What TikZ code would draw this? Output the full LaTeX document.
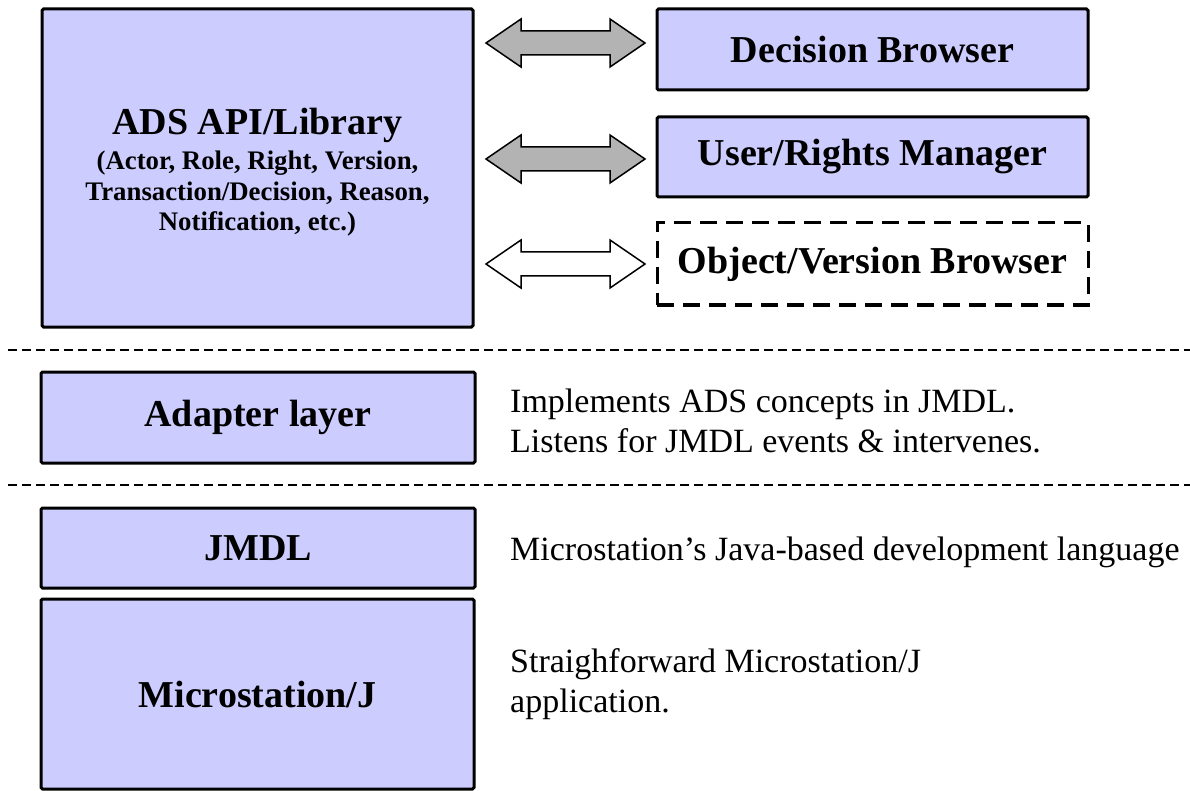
\documentclass[tikz,border=0pt]{standalone}
\usepackage{fontspec}
\setmainfont{Liberation Serif}
\definecolor{boxfill}{HTML}{CCCCFF}
\definecolor{arrowgray}{HTML}{B3B3B3}
\tikzset{
  layer/.style={draw=black, line width=3pt, fill=boxfill, rounded corners=1.5pt, inner sep=0pt,
    font=\fontsize{38}{42}\selectfont\bfseries},
  dashedbox/.style={draw=black, line width=3pt, dash pattern=on 17pt off 9pt, fill=white, inner sep=0pt,
    font=\fontsize{38}{42}\selectfont\bfseries},
  btxt/.style={anchor=base, inner sep=0pt, font=\fontsize{38}{42}\selectfont\bfseries},
  stxt/.style={anchor=base, inner sep=0pt, font=\fontsize{26.8}{30}\selectfont\bfseries},
  note/.style={anchor=base west, inner sep=0pt, font=\fontsize{34}{40}\selectfont},
  sepline/.style={line width=2.5pt, dash pattern=on 9pt off 5pt},
  dblarrow/.pic={\draw[line width=1.5pt, line join=miter, fill=#1]
     (-79.5,0) -- (-44.5,-24) -- (-44.5,-12) -- (44.5,-12) -- (44.5,-24) -- (79.5,0)
     -- (44.5,24) -- (44.5,12) -- (-44.5,12) -- (-44.5,24) -- cycle;}
}
\begin{document}
\begin{tikzpicture}[x=1pt,y=-1pt]
\useasboundingbox (0,0) rectangle (1190,791);
% top section
\node[layer, minimum width=431pt, minimum height=318pt] (ads) at (257.5,168) {};
\node[btxt] (adst) at (257.5,135) {ADS API/Library};
\node[stxt] (adss1) at (257.5,170) {(Actor, Role, Right, Version,};
\node[stxt] (adss2) at (257.5,200.5) {Transaction/Decision, Reason,};
\node[stxt] (adss3) at (257.5,231) {Notification, etc.)};

\node[layer, minimum width=431pt, minimum height=81pt] (dec) at (872.5,49.5) {Decision Browser};
\node[layer, minimum width=431pt, minimum height=80pt] (usr) at (872.5,157) {User/Rights Manager};
\node[dashedbox, minimum width=431pt, minimum height=82pt] (obj) at (872.5,264) {Object/Version Browser};

\coordinate (a1) at (565.5,43);
\coordinate (a2) at (565.5,159);
\coordinate (a3) at (565.5,264);
\pic at (a1) {dblarrow=arrowgray};
\pic at (a2) {dblarrow=arrowgray};
\pic at (a3) {dblarrow=white};

% separators
\coordinate (s1l) at (8,350);
\coordinate (s1r) at (1190,350);
\coordinate (s2l) at (8,485);
\coordinate (s2r) at (1190,485);
\draw[sepline] (s1l) -- (s1r);
\draw[sepline] (s2l) -- (s2r);

% adapter layer
\node[layer, minimum width=434pt, minimum height=91pt] (adp) at (258,417.5) {Adapter layer};
\node[note] (n1) at (510,412) {Implements ADS concepts in JMDL.};
\node[note] (n2) at (510,452) {Listens for JMDL events \& intervenes.};

% JMDL
\node[layer, minimum width=434pt, minimum height=80pt] (jmdl) at (258,548) {JMDL};
\node[note] (n3) at (510,560) {Microstation’s Java-based development language};

% Microstation
\node[layer, minimum width=433pt, minimum height=190pt] (ms) at (257.5,694) {Microstation/J};
\node[note] (n4) at (510,672) {Straighforward Microstation/J};
\node[note] (n5) at (510,712) {application.};
\end{tikzpicture}
\end{document}
